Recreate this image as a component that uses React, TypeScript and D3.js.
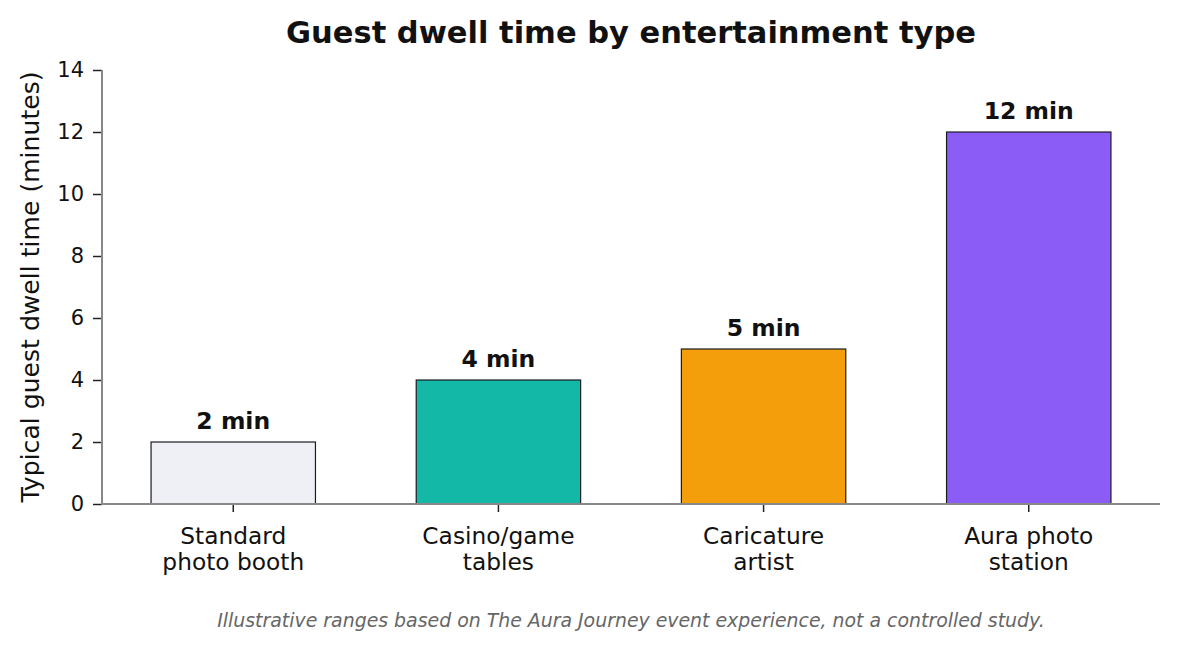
import React, { useRef, useEffect } from "react";
import * as d3 from "d3";

const categories = [
  "Standard\nphoto booth",
  "Casino/game\ntables",
  "Caricature\nartist",
  "Aura photo\nstation",
];
const dwellMinutes = [2, 4, 5, 12];
const barLabels = ["2 min", "4 min", "5 min", "12 min"];
const barColors = ["#eef0f5", "#14b8a6", "#f59e0b", "#8b5cf6"];
const yTicks = [0, 2, 4, 6, 8, 10, 12, 14];

const FONT = "DejaVu Sans, Verdana, sans-serif";

const App: React.FC = () => {
  const ref = useRef<SVGSVGElement | null>(null);

  useEffect(() => {
    d3.select(ref.current).selectAll("*").remove();

    const svg = d3.select(ref.current);
    const width = 1180;
    const height = 650;
    const left = 102;
    const right = 1160;
    const top = 70;
    const bottom = 504;

    svg.attr("width", width).attr("height", height);

    svg
      .append("rect")
      .attr("width", width)
      .attr("height", height)
      .attr("fill", "#ffffff");

    const xScale = d3
      .scaleBand()
      .domain(categories)
      .range([left, right])
      .paddingInner(0.38)
      .paddingOuter(0.185);

    const yScale = d3.scaleLinear().domain([0, 14]).range([bottom, top]);

    // bars
    svg
      .append("g")
      .selectAll("rect")
      .data(categories)
      .enter()
      .append("rect")
      .attr("x", (d) => xScale(d) || 0)
      .attr("y", (d, i) => yScale(dwellMinutes[i]))
      .attr("width", xScale.bandwidth())
      .attr("height", (d, i) => yScale(0) - yScale(dwellMinutes[i]))
      .attr("fill", (d, i) => barColors[i])
      .attr("stroke", "#1c1c24")
      .attr("stroke-width", 1.2);

    // value labels
    svg
      .append("g")
      .selectAll("text")
      .data(categories)
      .enter()
      .append("text")
      .attr("x", (d) => (xScale(d) || 0) + xScale.bandwidth() / 2)
      .attr("y", (d, i) => yScale(dwellMinutes[i]) - 13)
      .attr("text-anchor", "middle")
      .attr("font-family", FONT)
      .attr("font-weight", "bold")
      .attr("font-size", 23.5)
      .attr("fill", "#111111")
      .text((d, i) => barLabels[i]);

    // y axis
    const yAxis = svg
      .append("g")
      .attr("transform", `translate(${left}, 0)`)
      .call(
        d3
          .axisLeft(yScale)
          .tickValues(yTicks)
          .tickSize(9)
          .tickPadding(9)
          .tickFormat(d3.format("d"))
      );
    yAxis.select(".domain").remove();
    yAxis.selectAll("line").attr("stroke", "#222222").attr("stroke-width", 1.5);
    yAxis
      .selectAll("text")
      .attr("font-family", FONT)
      .attr("font-size", 21)
      .attr("fill", "#111111");

    // x axis
    const xAxis = svg
      .append("g")
      .attr("transform", `translate(0, ${bottom})`)
      .call(d3.axisBottom(xScale).tickSize(8).tickFormat(() => ""));
    xAxis.select(".domain").remove();
    xAxis.selectAll("line").attr("stroke", "#222222").attr("stroke-width", 1.5);
    xAxis
      .selectAll(".tick")
      .append("g")
      .each(function (d) {
        const lines = String(d).split("\n");
        const t = d3
          .select(this)
          .append("text")
          .attr("text-anchor", "middle")
          .attr("font-family", FONT)
          .attr("font-size", 23.3)
          .attr("fill", "#111111");
        lines.forEach((line, k) => {
          t.append("tspan")
            .attr("x", 0)
            .attr("y", 40 + k * 26)
            .text(line);
        });
      });

    // spines
    svg
      .append("line")
      .attr("x1", left)
      .attr("x2", left)
      .attr("y1", top)
      .attr("y2", bottom + 1)
      .attr("stroke", "#888888")
      .attr("stroke-width", 2);
    svg
      .append("line")
      .attr("x1", left - 1)
      .attr("x2", right)
      .attr("y1", bottom)
      .attr("y2", bottom)
      .attr("stroke", "#888888")
      .attr("stroke-width", 2);

    // title
    svg
      .append("text")
      .attr("x", (left + right) / 2)
      .attr("y", 43)
      .attr("text-anchor", "middle")
      .attr("font-family", FONT)
      .attr("font-weight", "bold")
      .attr("font-size", 30.5)
      .attr("fill", "#111111")
      .text("Guest dwell time by entertainment type");

    // y label
    svg
      .append("text")
      .attr("transform", `translate(39, ${(top + bottom) / 2}) rotate(-90)`)
      .attr("text-anchor", "middle")
      .attr("font-family", FONT)
      .attr("font-size", 25.1)
      .attr("fill", "#111111")
      .text("Typical guest dwell time (minutes)");

    // footnote
    svg
      .append("text")
      .attr("x", (left + right) / 2)
      .attr("y", 627)
      .attr("text-anchor", "middle")
      .attr("font-family", FONT)
      .attr("font-style", "italic")
      .attr("font-size", 18.9)
      .attr("fill", "#666666")
      .text(
        "Illustrative ranges based on The Aura Journey event experience, not a controlled study."
      );
  }, []);

  return (
    <svg
      ref={ref}
      style={{ position: "absolute", left: 0, top: 0, display: "block" }}
    ></svg>
  );
};

export default App;
